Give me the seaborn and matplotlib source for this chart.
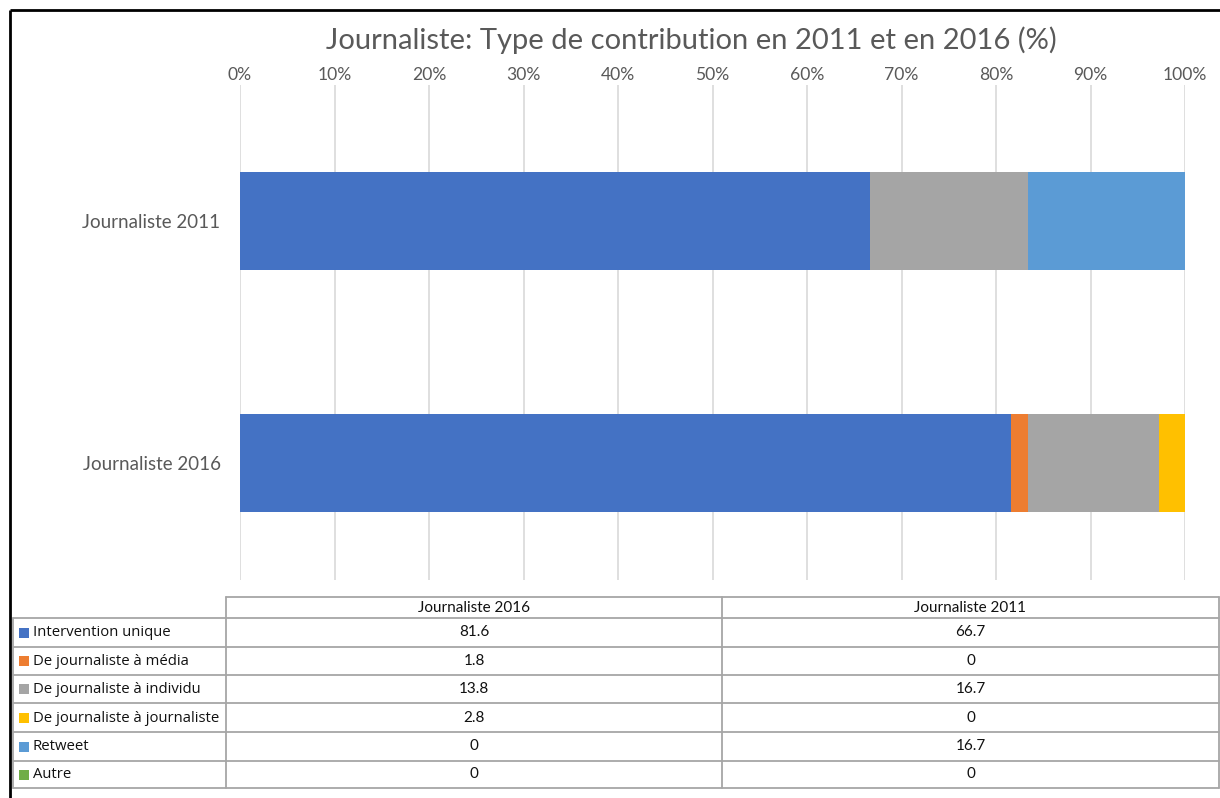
import numpy as np
import pandas as pd
import matplotlib
matplotlib.use("Agg")
import matplotlib.pyplot as plt
import seaborn as sns

# ---------------- data ----------------
categories = ["Journaliste 2011", "Journaliste 2016"]
series_names = ["Intervention unique", "De journaliste à média", "De journaliste à individu",
                "De journaliste à journaliste", "Retweet", "Autre"]
values_2016 = [81.6, 1.8, 13.8, 2.8, 0, 0]
values_2011 = [66.7, 0, 16.7, 0, 16.7, 0]
series_colors = ["#4472C4", "#ED7D31", "#A5A5A5", "#FFC000", "#5B9BD5", "#70AD47"]
x_ticks = list(range(0, 101, 10))
tick_labels = [f"{t}%" for t in x_ticks]
title = "Journaliste: Type de contribution en 2011 et en 2016 (%)"
table_columns = ["Journaliste 2016", "Journaliste 2011"]

# ---------------- style ----------------
sns.set_theme(style="white")
plt.rcParams['font.family'] = ['Lato', 'DejaVu Sans']
GRAY_TXT = "#595959"

W, H = 1220, 798
fig = plt.figure(figsize=(W / 100, H / 100), dpi=100)
fig.patch.set_facecolor("white")

# ---------------- chart ----------------
ax = fig.add_axes([240 / W, 1 - 580 / H, 945 / W, 495 / H])

rows = []
for cat, vals in [("Journaliste 2011", values_2011), ("Journaliste 2016", values_2016)]:
    for s, v in zip(series_names, vals):
        rows.append({"category": cat, "series": s, "value": v})
df = pd.DataFrame(rows)
df["cum"] = df.groupby("category")["value"].cumsum()

for s, col in reversed(list(zip(series_names, series_colors))):
    sub = df[df["series"] == s]
    sns.barplot(data=sub, x="cum", y="category", order=categories, orient="h",
                color=col, saturation=1, width=0.405, linewidth=0, ax=ax, zorder=3)

ax.set_xlim(0, 100)
ax.set_ylim(1.483, -0.562)
ax.xaxis.tick_top()
ax.set_xticks(x_ticks)
ax.set_xticklabels(tick_labels)
ax.set_xlabel("")
ax.set_ylabel("")
ax.grid(axis="x", color="#D9D9D9", linewidth=1.2, zorder=0)
ax.grid(axis="y", visible=False)
ax.set_axisbelow(True)
for sp in ax.spines.values():
    sp.set_visible(False)
ax.tick_params(axis="x", length=0, pad=1.5, labelsize=12.6, colors=GRAY_TXT)
ax.tick_params(axis="y", length=0, pad=14, labelsize=13.5, colors=GRAY_TXT)
ax.patch.set_alpha(0)

fig.text(691 / W, 1 - 40 / H, title, ha="center", va="center", fontsize=21, color=GRAY_TXT)

# ---------------- overlay: frame + data table ----------------
ov = fig.add_axes([0, 0, 1, 1])
ov.set_xlim(0, W)
ov.set_ylim(H, 0)
ov.axis("off")
ov.patch.set_alpha(0)

ov.plot([10, 10], [10, H], color="black", lw=2, solid_capstyle="butt")
ov.plot([10, W], [10, 10], color="black", lw=2, solid_capstyle="butt")

LC = "#A6A6A6"
lw = 1.3
x_left, x_c1, x_c2, x_right = 13, 226, 722, 1219
y_head_top = 597
row_lines = [618, 647, 675, 703, 732, 761, 788]

ov.plot([x_c1, x_right], [y_head_top, y_head_top], color=LC, lw=lw)
for y in row_lines:
    ov.plot([x_left, x_right], [y, y], color=LC, lw=lw)
ov.plot([x_left, x_left], [row_lines[0], row_lines[-1]], color=LC, lw=lw)
for x in [x_c1, x_c2, x_right]:
    ov.plot([x, x], [y_head_top, row_lines[-1]], color=LC, lw=lw)

col_centers = [(x_c1 + x_c2) / 2, (x_c2 + x_right) / 2]
for cx, name in zip(col_centers, table_columns):
    ov.text(cx, (y_head_top + row_lines[0]) / 2, name, ha="center", va="center",
            fontsize=11, color="#111111")

for i, (s, col) in enumerate(zip(series_names, series_colors)):
    yc = (row_lines[i] + row_lines[i + 1]) / 2
    ov.add_patch(plt.Rectangle((19, yc - 5), 10, 10, color=col, lw=0))
    ov.text(33, yc + 0.5, s, ha="left", va="center", fontsize=10.7, color="#111111",
            family=["Open Sans", "DejaVu Sans"])
    for cx, vals in zip(col_centers, [values_2016, values_2011]):
        ov.text(cx, yc, f"{vals[i]:g}", ha="center", va="center", fontsize=11, color="#111111")

fig.savefig("out.png", dpi=100, facecolor="white")
